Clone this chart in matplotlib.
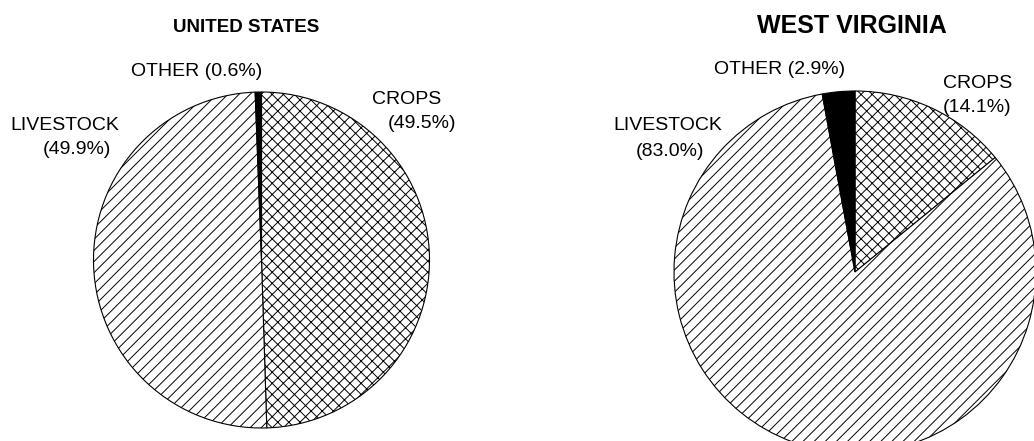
#!/usr/bin/env python3
"""Farm cash receipts by source: United States vs. West Virginia (pie pair)."""
import matplotlib as mpl
import matplotlib.pyplot as plt

mpl.rcParams.update({
    'font.family': ['Liberation Sans', 'DejaVu Sans'],
    'hatch.linewidth': 0.7,
})

W, H = 1034, 441

CATEGORIES = ['CROPS', 'LIVESTOCK', 'OTHER']
US_SHARE = [49.5, 49.9, 0.6]
WV_SHARE = [14.1, 83.0, 2.9]

FACES = ['white', 'white', 'black']
HATCHES = ['xxx', '///', None]

# pie placement in pixels (x, y from top, radius)
PIES = {
    'UNITED STATES': dict(share=US_SHARE, cx=261.5, cy=260, r=168,
                          title_xy=(246, 27), title_size=13.5),
    'WEST VIRGINIA': dict(share=WV_SHARE, cx=855, cy=272, r=181,
                          title_xy=(852, 26), title_size=18),
}

# label anchors: (x, y, ha) for name line and value line; OTHER is one line
LABELS = {
    'UNITED STATES': {
        'CROPS': [(372, 99, 'left'), (388, 123, 'left')],
        'LIVESTOCK': [(10, 125, 'left'), (43, 150, 'left')],
        'OTHER': [(262, 71, 'right')],
    },
    'WEST VIRGINIA': {
        'CROPS': [(943, 84, 'left'), (943, 107, 'left')],
        'LIVESTOCK': [(613, 125, 'left'), (636, 151, 'left')],
        'OTHER': [(845, 69, 'right')],
    },
}

fig = plt.figure(figsize=(W / 100, H / 100), dpi=100)
ax = fig.add_axes([0, 0, 1, 1])

for name, spec in PIES.items():
    wedges, _ = ax.pie(spec['share'], startangle=90, counterclock=False,
                       center=(spec['cx'], H - spec['cy']), radius=spec['r'],
                       frame=True,
                       wedgeprops=dict(edgecolor='black', linewidth=0.8))
    for w, fc, h in zip(wedges, FACES, HATCHES):
        w.set_facecolor(fc)
        if h:
            w.set_hatch(h)

    tx, ty = spec['title_xy']
    ax.text(tx, H - ty, name, ha='center', va='center',
            fontsize=spec['title_size'], fontweight='bold')

    for cat, val in zip(CATEGORIES, spec['share']):
        pos = LABELS[name][cat]
        pct = f'({val:.1f}%)'
        lines = [f'{cat} {pct}'] if len(pos) == 1 else [cat, pct]
        for (x, y, ha), txt in zip(pos, lines):
            ax.text(x, H - y, txt, ha=ha, va='center', fontsize=14)

ax.set_xlim(0, W)
ax.set_ylim(0, H)
ax.set_aspect('auto')
ax.axis('off')

fig.savefig('out.png', dpi=100)
plt.close(fig)
